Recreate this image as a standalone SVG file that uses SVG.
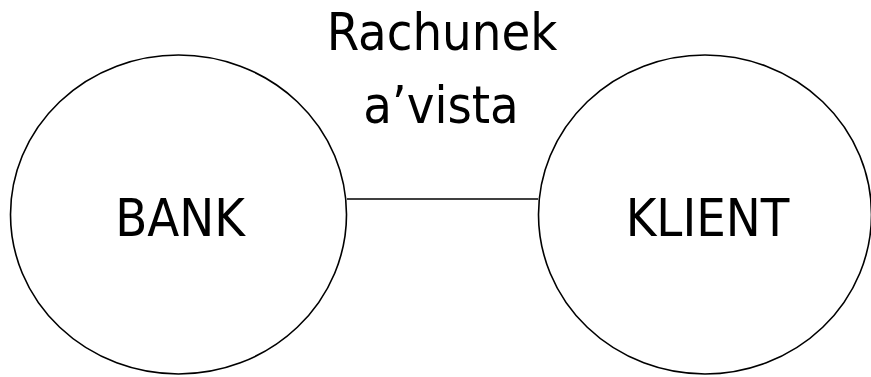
<svg xmlns="http://www.w3.org/2000/svg" width="871" height="377" viewBox="0 0 871 377">
  <style>
    .node { fill: #ffffff; stroke: #000000; stroke-width: 1.6; }
    .label { font-family: "DejaVu Sans Condensed", "DejaVu Sans", sans-serif; font-size: 52px; fill: #000000; text-anchor: middle; }
    .link { stroke: #000000; stroke-width: 1.6; fill: none; }
  </style>
  <rect width="871" height="377" fill="#ffffff"/>
  <g id="connectors">
    <line class="link" x1="347" y1="199" x2="538" y2="199"/>
    <text class="label" x="442" y="50">Rachunek</text>
    <text class="label" x="441" y="123">a’vista</text>
  </g>
  <g id="bank">
    <ellipse class="node" cx="178.5" cy="214.5" rx="168" ry="159.5"/>
    <text class="label" x="180" y="236">BANK</text>
  </g>
  <g id="klient">
    <ellipse class="node" cx="705" cy="214.5" rx="166.5" ry="159.5"/>
    <text class="label" x="707.5" y="236">KLIENT</text>
  </g>
</svg>
